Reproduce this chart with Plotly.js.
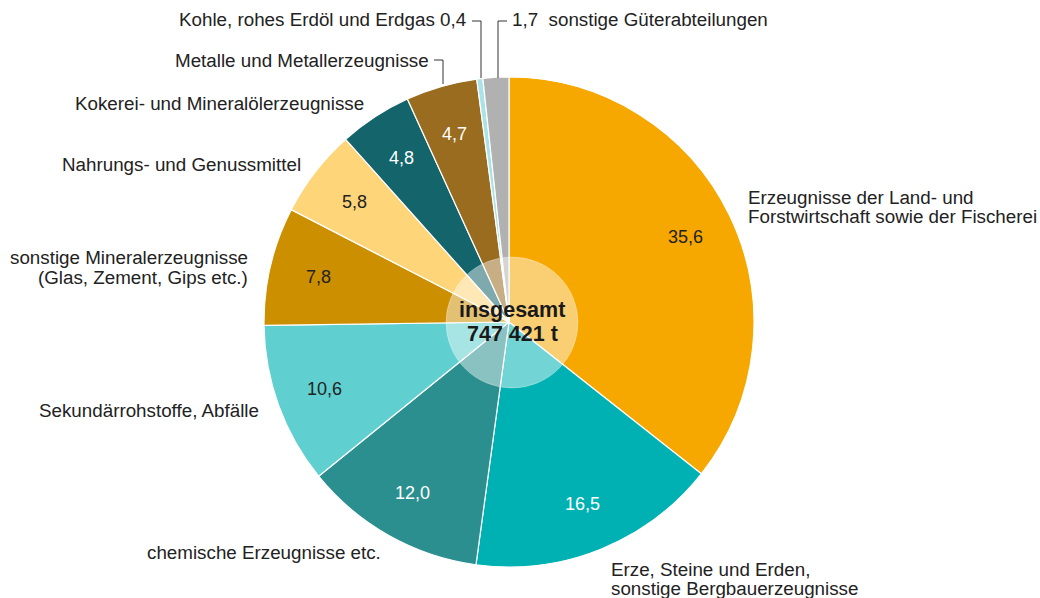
<!DOCTYPE html>
<html><head><meta charset="utf-8">
<script src="https://cdn.plot.ly/plotly-3.0.1.min.js"></script>
<style>html,body{margin:0;padding:0;background:#fff;}#chart{width:1040px;height:598px;}</style>
</head><body><div id="chart"></div>
<script>
const categories = [
  "Erzeugnisse der Land- und Forstwirtschaft sowie der Fischerei",
  "Erze, Steine und Erden, sonstige Bergbauerzeugnisse",
  "chemische Erzeugnisse etc.",
  "Sekundärrohstoffe, Abfälle",
  "sonstige Mineralerzeugnisse (Glas, Zement, Gips etc.)",
  "Nahrungs- und Genussmittel",
  "Kokerei- und Mineralölerzeugnisse",
  "Metalle und Metallerzeugnisse",
  "Kohle, rohes Erdöl und Erdgas",
  "sonstige Güterabteilungen"
];
const values = [35.6, 16.5, 12.0, 10.6, 7.8, 5.8, 4.8, 4.7, 0.4, 1.7];
const colors = ["#F6A800","#00B1B3","#2B8F8F","#5FCFCF","#CC8F00","#FFD57A","#14646B","#9A6C1F","#A9E3E8","#B1B1B1"];
const valueTextColors = ["#222","#fff","#fff","#222","#222","#222","#fff","#fff","#222","#222"];
const showInside = [true,true,true,true,true,true,true,true,false,false];
const totalLines = ["insgesamt", "747 421 t"];

const W = 1040, H = 598;
const cx = 509, cy = 322, R = 245;
const FONT = 'Liberation Sans, Arial, sans-serif';
const fmt = v => v.toFixed(1).replace('.', ',');
const px = x=>x/W, py = y=>1-y/H;

const annotations = [];
const total = values.reduce((a,b)=>a+b,0);
let cum = 0;
values.forEach((v,i)=>{
  const mid = (cum + v/2) / total * 2*Math.PI;
  cum += v;
  if (!showInside[i]) return;
  const r = 0.8*R;
  const x = cx + r*Math.sin(mid), y = cy - r*Math.cos(mid);
  annotations.push({x:px(x), y:py(y), xref:'paper', yref:'paper', text:fmt(v), showarrow:false,
    font:{family:FONT, size:18, color:valueTextColors[i]}, xanchor:'center', yanchor:'middle'});
});

function lab(lines, x, y, anchor){
  lines.forEach((t,k)=>{
    annotations.push({x:px(x), y:py(y+k*19.5), xref:'paper', yref:'paper', text:t, showarrow:false,
      xanchor:anchor, yanchor:'middle', font:{family:FONT, size:18.8, color:'#222'}});
  });
}
lab(["Erzeugnisse der Land- und","Forstwirtschaft sowie der Fischerei"], 746, 197, 'left');
lab(["Erze, Steine und Erden,","sonstige Bergbauerzeugnisse"], 609, 569, 'left');
lab(["chemische Erzeugnisse etc."], 145, 552, 'left');
lab(["Sekundärrohstoffe, Abfälle"], 261, 410, 'right');
lab(["sonstige Mineralerzeugnisse","(Glas, Zement, Gips etc.)"], 250, 258, 'right');
lab(["Nahrungs- und Genussmittel"], 303, 165, 'right');
lab(["Kokerei- und Mineralölerzeugnisse"], 366, 103, 'right');
lab(["Metalle und Metallerzeugnisse"], 431, 60, 'right');
lab(["Kohle, rohes Erdöl und Erdgas " + fmt(values[8])], 468, 20, 'right');
lab([fmt(values[9]) + "  sonstige Güterabteilungen"], 510, 20, 'left');

totalLines.forEach((t,k)=>{
  annotations.push({x:px(512), y:py(310+k*24), xref:'paper', yref:'paper', text:'<b>'+t+'</b>', showarrow:false,
    font:{family:FONT, size:21.5, color:'#1a1a1a'}, xanchor:'center', yanchor:'middle'});
});

const line = {color:'#333', width:1};
const shapes = [
  {type:'circle', xref:'paper', yref:'paper', x0:px(446), x1:px(578), y0:py(388), y1:py(257),
   fillcolor:'rgba(255,255,255,0.45)', line:{color:'rgba(255,255,255,0.3)', width:1}},
  {type:'path', xref:'paper', yref:'paper', path:`M ${px(472)} ${py(21)} L ${px(481)} ${py(21)} L ${px(481)} ${py(78)}`, line:line},
  {type:'path', xref:'paper', yref:'paper', path:`M ${px(507)} ${py(21)} L ${px(498)} ${py(21)} L ${px(498)} ${py(78)}`, line:line},
  {type:'path', xref:'paper', yref:'paper', path:`M ${px(434)} ${py(60)} L ${px(443)} ${py(60)} L ${px(443)} ${py(84)}`, line:line}
];

const trace = {
  type:'pie', values:values, labels:categories, sort:false, direction:'clockwise', rotation:0,
  marker:{colors:colors, line:{color:'#fff', width:1.2}},
  textinfo:'none', hoverinfo:'label+value', showlegend:false,
  domain:{x:[(cx-R)/W,(cx+R)/W], y:[(H-cy-R)/H,(H-cy+R)/H]}
};

Plotly.newPlot('chart',[trace],{
  width:W, height:H, margin:{l:0,r:0,t:0,b:0}, paper_bgcolor:'#fff', plot_bgcolor:'#fff',
  annotations:annotations, shapes:shapes, showlegend:false
},{displayModeBar:false, staticPlot:true});
</script></body></html>
